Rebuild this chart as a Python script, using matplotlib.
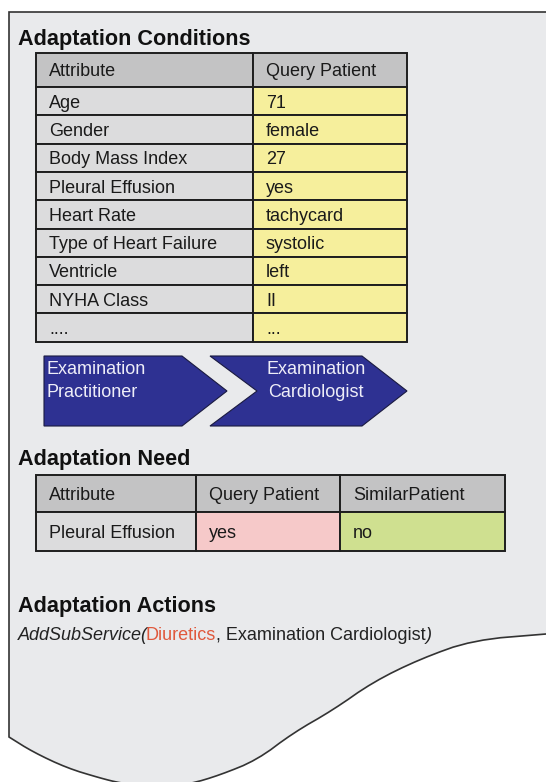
import matplotlib.pyplot as plt
import numpy as np
from matplotlib.patches import Polygon, Rectangle

# table contents
cond_attributes = ["Age", "Gender", "Body Mass Index", "Pleural Effusion", "Heart Rate",
                   "Type of Heart Failure", "Ventricle", "NYHA Class", "...."]
cond_values = ["71", "female", "27", "yes", "tachycard", "systolic", "left", "II", "..."]
cond_header = ["Attribute", "Query Patient"]

need_header = ["Attribute", "Query Patient", "SimilarPatient"]
need_row = ["Pleural Effusion", "yes", "no"]

steps = [["Examination", "Practitioner"], ["Examination", "Cardiologist"]]

action_parts = [("AddSubService(", "italic", "#222222"),
                ("Diuretics", "normal", "#e0583c"),
                (", Examination Cardiologist", "normal", "#222222"),
                (")", "italic", "#222222")]

FONT = "Liberation Sans"
PAGE = "#e9eaec"
HEAD = "#c3c3c4"
ATTR = "#dcdcdd"
YEL = "#f6ef9c"
PINK = "#f6c9c9"
GREEN = "#cfe090"
BLUE = "#2e3192"
LINE = "#1e1e1e"
FS = 13

fig = plt.figure(figsize=(5.46, 7.82), dpi=100)
ax = fig.add_axes([0, 0, 1, 1])
ax.set_xlim(0, 546)
ax.set_ylim(782, 0)
ax.axis("off")

# page outline with torn bottom edge (smoothed a bit)
tear = np.array([(546, 634), (473, 640), (420, 659), (373, 682), (333, 710),
                 (293, 733), (257, 760), (220, 775), (190, 784), (155, 788), (120, 783),
                 (100, 778), (67, 768), (33, 752), (9, 737)], dtype=float)
for _ in range(2):
    q = 0.75 * tear[:-1] + 0.25 * tear[1:]
    r_ = 0.25 * tear[:-1] + 0.75 * tear[1:]
    mid = np.empty((2 * len(q), 2))
    mid[0::2], mid[1::2] = q, r_
    tear = np.vstack([tear[:1], mid, tear[-1:]])
edge = [(560, 634)] + [tuple(p) for p in tear] + [(9, 12), (560, 12)]
ax.add_patch(Polygon(edge, closed=True, facecolor=PAGE, edgecolor="#333333", lw=1.2))

def title(y, s):
    ax.text(18, y, s, fontsize=15.6, fontweight="bold", family=FONT, color="#111111", va="baseline")

def cell(x0, x1, y0, y1, color, s, txtcolor="#1a1a1a"):
    ax.add_patch(Rectangle((x0, y0), x1 - x0, y1 - y0, facecolor=color, edgecolor=LINE, lw=1.4))
    ax.text(x0 + 13, (y0 + y1) / 2 + 6.5, s, fontsize=FS, family=FONT, color=txtcolor, va="baseline")

# Adaptation Conditions
title(45, "Adaptation Conditions")
cx = [36, 253, 407]
top, head_h, row_h = 53, 34, 28.3
for j, h in enumerate(cond_header):
    cell(cx[j], cx[j + 1], top, top + head_h, HEAD, h)
for i, (a, v) in enumerate(zip(cond_attributes, cond_values)):
    y0 = top + head_h + i * row_h
    cell(cx[0], cx[1], y0, y0 + row_h, ATTR, a)
    cell(cx[1], cx[2], y0, y0 + row_h, YEL, v)

# process chevrons
y0, y1 = 356, 426
ym = (y0 + y1) / 2
ax.add_patch(Polygon([(44, y0), (182, y0), (227, ym), (182, y1), (44, y1)],
                     closed=True, facecolor=BLUE, edgecolor="#1a1a40", lw=0.8))
ax.add_patch(Polygon([(210, y0), (362, y0), (407, ym), (362, y1), (210, y1), (257, ym)],
                     closed=True, facecolor=BLUE, edgecolor="#1a1a40", lw=0.8))
for k, (lx, ha) in enumerate([(47, "left"), (316, "center")]):
    for line, by in zip(steps[k], [374, 397]):
        ax.text(lx, by, line, fontsize=FS, family=FONT, color="#eeeef8", va="baseline", ha=ha)

# Adaptation Need
title(465, "Adaptation Need")
nx = [36, 196, 340, 505]
t2, h2a, h2b = 475, 37, 39
for j, h in enumerate(need_header):
    cell(nx[j], nx[j + 1], t2, t2 + h2a, HEAD, h)
for j, (s, c) in enumerate(zip(need_row, [ATTR, PINK, GREEN])):
    cell(nx[j], nx[j + 1], t2 + h2a, t2 + h2a + h2b, c, s)

# Adaptation Actions
title(612, "Adaptation Actions")
x = 18
r = fig.canvas.get_renderer()
for s, style, col in action_parts:
    t = ax.text(x, 640, s, fontsize=FS, family=FONT, style=style, color=col, va="baseline")
    bb = t.get_window_extent(renderer=r)
    x += bb.width * 546 / fig.bbox.width
    if style == "italic":
        x -= 2.5  # slanted glyphs overhang their bbox

fig.savefig("out.png", dpi=100)
